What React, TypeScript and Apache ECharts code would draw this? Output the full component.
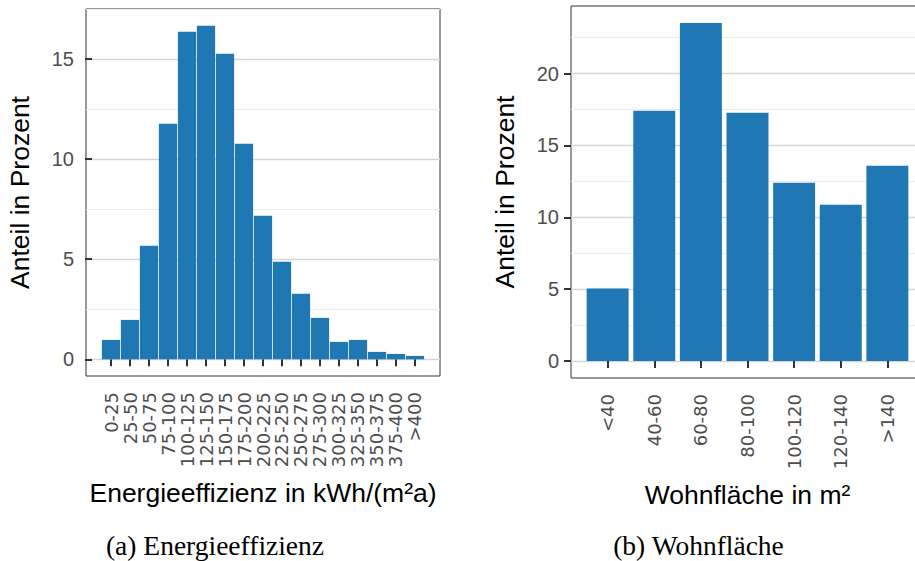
import React, { useEffect, useRef } from "react";
import * as echarts from "echarts";

const energyCategories = [
  "0-25", "25-50", "50-75", "75-100", "100-125", "125-150", "150-175", "175-200",
  "200-225", "225-250", "250-275", "275-300", "300-325", "325-350", "350-375", "375-400", ">400",
];
const energyValues = [0.97, 1.97, 5.67, 11.77, 16.37, 16.67, 15.27, 10.77, 7.17, 4.87, 3.27, 2.07, 0.87, 0.97, 0.37, 0.27, 0.17];
const energyMajorTicks = [0, 5, 10, 15];
const energyMinorTicks = [2.5, 7.5, 12.5, 17.5];

const areaCategories = ["<40", "40-60", "60-80", "80-100", "100-120", "120-140", ">140"];
const areaValues = [5.05, 17.41, 23.52, 17.27, 12.41, 10.88, 13.59];
const areaMajorTicks = [0, 5, 10, 15, 20];
const areaMinorTicks = [2.5, 7.5, 12.5, 17.5, 22.5];

const yTitle = "Anteil in Prozent";
const energyTitle = "Energieeffizienz in kWh/(m²a)";
const areaTitle = "Wohnfläche in m²";
const captionA = "(a) Energieeffizienz";
const captionB = "(b) Wohnfläche";

const SANS = "Liberation Sans";
const TICK_SANS = "DejaVu Sans";
const SERIF = "Liberation Serif";
const BAR = "#1f77b4";

type Panel = { left: number; top: number; right: number; bottom: number; pad: number; barFrac: number };
const P1: Panel = { left: 86, top: 9, right: 440, bottom: 376, pad: 1.316, barFrac: 0.96 };
const P2: Panel = { left: 571, top: 6, right: 924, bottom: 378, pad: 0.786, barFrac: 0.9 };

function buildPanel(idx: number, p: Panel, cats: string[], vals: number[], major: number[], minor: number[], xTitle: string) {
  const n = cats.length;
  const positions = cats.map((_, i) => i + 1);
  const vmax = Math.max(...vals);
  const ymin = -0.05 * vmax;
  const ymax = 1.05 * vmax;
  const width = p.right - p.left;
  const unit = width / (n - 1 + 2 * p.pad);
  const tickStyle = { color: "#333333", width: 2 };
  const grid = {
    left: p.left,
    top: p.top,
    width,
    height: p.bottom - p.top,
    show: true,
    borderColor: "#333333",
    borderWidth: 1,
    backgroundColor: "transparent",
    containLabel: false,
    outerBoundsMode: "none",
  };
  const xAxis = {
    type: "value",
    gridIndex: idx,
    min: 1 - p.pad,
    max: n + p.pad,
    axisLine: { show: false },
    splitLine: { show: false },
    axisTick: { show: true, length: 7, lineStyle: tickStyle, customValues: positions },
    axisLabel: {
      customValues: positions,
      rotate: 90,
      margin: 16,
      color: "#4d4d4d",
      fontSize: 18,
      fontFamily: TICK_SANS,
      showMinLabel: true,
      showMaxLabel: true,
      formatter: (v: number) => cats[Math.round(v) - 1] ?? "",
    },
    name: xTitle,
    nameLocation: "middle",
    nameGap: 103,
    nameTextStyle: { color: "#000", fontSize: 26.5, fontFamily: SANS },
  };
  const yMajor = {
    type: "value",
    gridIndex: idx,
    min: ymin,
    max: ymax,
    axisLine: { show: false },
    axisTick: { show: true, length: 7, lineStyle: tickStyle, customValues: major },
    axisLabel: { customValues: major, color: "#4d4d4d", fontSize: 20, fontFamily: SANS, margin: 12 },
    splitLine: { show: true, lineStyle: { color: "#d6d6d6", width: 1.3 } },
    name: yTitle,
    nameLocation: "middle",
    nameGap: 53,
    nameTextStyle: { color: "#000", fontSize: 26.5, fontFamily: SANS },
  };
  const yMinor = {
    type: "value",
    gridIndex: idx,
    min: ymin,
    max: ymax,
    position: "left",
    axisLine: { show: false },
    axisTick: { show: false, customValues: minor },
    axisLabel: { show: false, customValues: minor },
    splitLine: { show: true, lineStyle: { color: "#ebebeb", width: 1 } },
  };
  const series = {
    type: "bar",
    xAxisIndex: idx,
    yAxisIndex: idx * 2,
    barWidth: unit * p.barFrac,
    itemStyle: { color: BAR },
    data: vals.map((v, i) => [positions[i], v]),
    z: 3,
  };
  return { grid, xAxis, yMajor, yMinor, series };
}

export default function App() {
  const ref = useRef<HTMLDivElement>(null);
  useEffect(() => {
    if (!ref.current) return;
    const chart = echarts.init(ref.current, null, { renderer: "svg" });
    const a = buildPanel(0, P1, energyCategories, energyValues, energyMajorTicks, energyMinorTicks, energyTitle);
    const b = buildPanel(1, P2, areaCategories, areaValues, areaMajorTicks, areaMinorTicks, areaTitle);
    chart.setOption({
      animation: false,
      backgroundColor: "#ffffff",
      grid: [a.grid, b.grid],
      xAxis: [a.xAxis, b.xAxis],
      yAxis: [a.yMajor, a.yMinor, b.yMajor, b.yMinor],
      series: [a.series, b.series],
      graphic: [
        {
          type: "text",
          x: 215,
          y: 545,
          style: { text: captionA, fill: "#000", font: `27.5px "${SERIF}"`, textAlign: "center", textVerticalAlign: "middle" },
        },
        {
          type: "text",
          x: 698.5,
          y: 545,
          style: { text: captionB, fill: "#000", font: `27.5px "${SERIF}"`, textAlign: "center", textVerticalAlign: "middle" },
        },
      ],
    } as any);
    return () => chart.dispose();
  }, []);
  return (
    <div style={{ position: "absolute", left: 0, top: 0, width: 915, height: 561, overflow: "hidden" }}>
      <div ref={ref} style={{ width: 915, height: 561 }} />
    </div>
  );
}
